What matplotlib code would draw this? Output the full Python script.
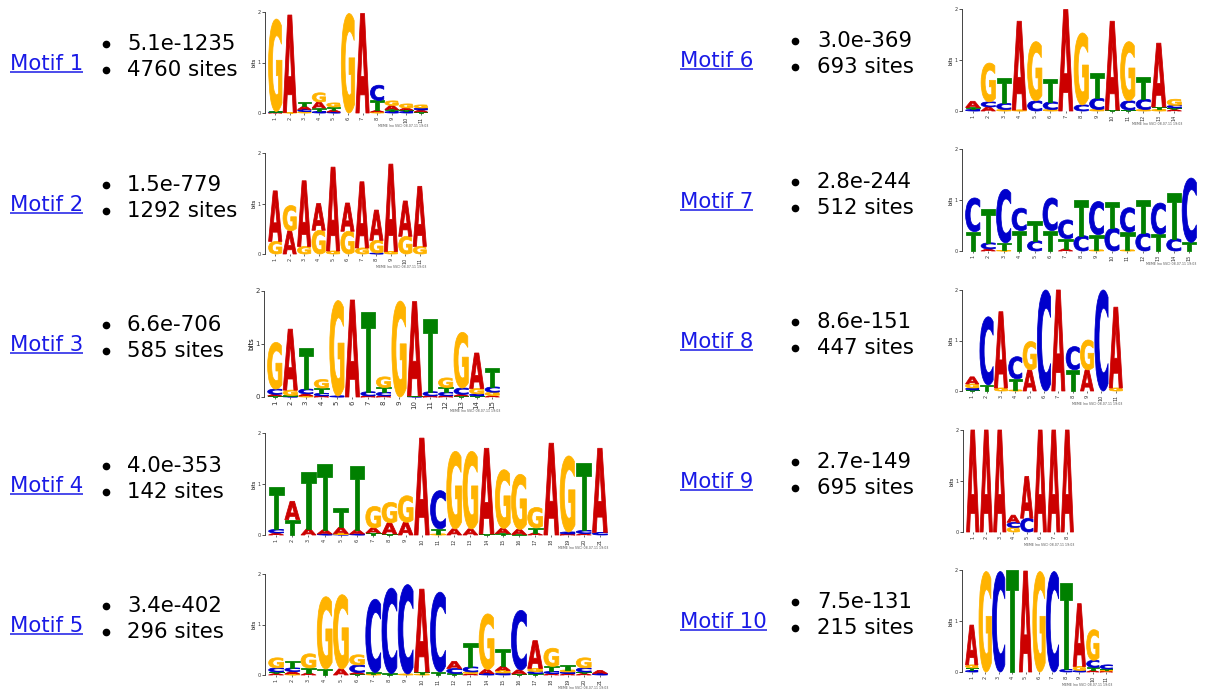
import matplotlib
matplotlib.use('Agg')
import matplotlib.pyplot as plt
from matplotlib.textpath import TextPath
from matplotlib.font_manager import FontProperties
from matplotlib.patches import PathPatch
from matplotlib.transforms import Affine2D

# summary of the discovered motifs
motif_names = ['Motif 1', 'Motif 2', 'Motif 3', 'Motif 4', 'Motif 5',
               'Motif 6', 'Motif 7', 'Motif 8', 'Motif 9', 'Motif 10']
evalues = ['5.1e-1235', '1.5e-779', '6.6e-706', '4.0e-353', '3.4e-402',
           '3.0e-369', '2.8e-244', '8.6e-151', '2.7e-149', '7.5e-131']
site_counts = [4760, 1292, 585, 142, 296, 693, 512, 447, 695, 215]

# information content (bits) per position, as (A, C, G, T)
motif1 = [(0.01, 0.01, 1.83, 0.01), (1.93, 0, 0.01, 0), (0.06, 0.04, 0.03, 0.08),
          (0.12, 0.03, 0.18, 0.07), (0.04, 0.02, 0.08, 0.06), (0, 0, 1.97, 0),
          (1.97, 0, 0, 0), (0.03, 0.3, 0.02, 0.2), (0.08, 0.03, 0.09, 0.04),
          (0.04, 0.03, 0.08, 0.03), (0.04, 0.04, 0.06, 0.02)]
motif2 = [(1.0, 0, 0.25, 0), (0.46, 0, 0.5, 0), (1.3, 0, 0.15, 0), (0.53, 0, 0.47, 0),
          (1.66, 0, 0.06, 0), (0.56, 0, 0.45, 0), (1.31, 0, 0.12, 0), (0.6, 0.02, 0.25, 0),
          (1.73, 0, 0.05, 0), (0.7, 0, 0.35, 0), (1.19, 0, 0.15, 0)]
motif3 = [(0.03, 0.1, 0.88, 0.02), (1.15, 0.01, 0.1, 0.02), (0.04, 0.09, 0.02, 0.77),
          (0.02, 0.05, 0.16, 0.1), (0, 0.02, 1.8, 0), (1.83, 0, 0, 0),
          (0.02, 0.08, 0, 1.5), (0.02, 0.07, 0.2, 0.09), (0, 0, 1.81, 0),
          (1.78, 0.01, 0, 0.01), (0.02, 0.08, 0, 1.37), (0.02, 0.07, 0.18, 0.09),
          (0.03, 0.12, 1.05, 0.02), (0.67, 0.04, 0.1, 0.02), (0.03, 0.1, 0.06, 0.36)]
motif4 = [(0.04, 0.07, 0, 0.83), (0.36, 0, 0, 0.3), (0.12, 0, 0, 1.11), (0.08, 0.02, 0, 1.3),
          (0.12, 0.01, 0.02, 0.37), (0.08, 0.02, 0, 1.25), (0.1, 0, 0.42, 0.04),
          (0.22, 0, 0.4, 0.02), (0.25, 0, 0.52, 0), (1.9, 0, 0, 0), (0, 0.75, 0.02, 0.1),
          (0.12, 0, 1.52, 0), (0.12, 0, 1.52, 0), (1.68, 0, 0, 0.02), (0.1, 0, 1.15, 0.03),
          (0.1, 0, 1.08, 0.01), (0.04, 0, 0.4, 0.1), (1.8, 0, 0, 0), (0.02, 0.04, 1.49, 0),
          (0.03, 0.06, 0, 1.32), (1.65, 0.05, 0, 0)]
motif5 = [(0.03, 0.08, 0.2, 0.03), (0.05, 0.07, 0.02, 0.14), (0.04, 0, 0.28, 0.1),
          (0, 0, 1.43, 0.12), (0.12, 0, 1.47, 0), (0.03, 0.15, 0.2, 0.02),
          (0, 1.45, 0.02, 0.03), (0, 1.69, 0, 0.03), (0, 1.77, 0.02, 0),
          (1.64, 0, 0.02, 0.04), (0, 1.58, 0, 0.06), (0.14, 0.1, 0, 0.03),
          (0.03, 0.1, 0.03, 0.48), (0.08, 0.03, 1.1, 0), (0.08, 0.04, 0.05, 0.35),
          (0.08, 1.18, 0, 0.02), (0.55, 0.04, 0.06, 0.03), (0.03, 0.04, 0.36, 0.1),
          (0.03, 0.03, 0.04, 0.1), (0.03, 0.08, 0.2, 0.03), (0.06, 0.03, 0, 0)]
motif6 = [(0.12, 0.03, 0, 0.04), (0.08, 0.1, 0.76, 0), (0, 0.12, 0.03, 0.5),
          (1.74, 0, 0.02, 0), (0, 0.2, 1.16, 0), (0, 0.15, 0.03, 0.45), (1.99, 0, 0, 0),
          (0, 0.12, 1.41, 0), (0, 0.22, 0.03, 0.49), (1.74, 0, 0, 0.02),
          (0, 0.18, 1.16, 0.02), (0, 0.2, 0.03, 0.43), (1.25, 0, 0.03, 0.05),
          (0.03, 0.05, 0.12, 0.03)]
motif7 = [(0, 0.66, 0, 0.38), (0.04, 0.12, 0, 0.67), (0, 1.05, 0.01, 0.15), (0, 0.44, 0, 0.4),
          (0, 0.2, 0, 0.38), (0, 0.64, 0, 0.4), (0.04, 0.37, 0, 0.2), (0, 0.3, 0, 0.7),
          (0, 0.65, 0.02, 0.3), (0, 0.45, 0, 0.52), (0, 0.48, 0.02, 0.35), (0, 0.35, 0, 0.65),
          (0, 0.61, 0, 0.33), (0, 0.24, 0, 0.89), (0, 1.26, 0, 0.17)]
motif8 = [(0.14, 0.04, 0.08, 0.02), (0, 1.35, 0, 0.12), (1.51, 0, 0.06, 0), (0, 0.44, 0.02, 0.22),
          (0.42, 0, 0.56, 0), (0, 2.0, 0, 0), (2.0, 0, 0, 0), (0, 0.46, 0, 0.42),
          (0.42, 0, 0.59, 0), (0, 2.0, 0, 0), (1.6, 0, 0.06, 0)]
motif9 = [(2.0, 0, 0, 0), (2.0, 0, 0, 0), (2.0, 0, 0, 0), (0.14, 0.1, 0.09, 0),
          (0.82, 0.27, 0, 0), (2.0, 0, 0, 0), (2.0, 0, 0, 0), (2.0, 0, 0, 0)]
motif10 = [(0.78, 0.03, 0.06, 0.05), (0, 0, 1.97, 0), (0, 1.97, 0, 0), (0, 0, 0, 2.0),
           (1.98, 0, 0, 0), (0, 0, 1.97, 0), (0, 1.97, 0, 0), (0, 0.05, 0, 1.7),
           (1.23, 0.03, 0.08, 0), (0.03, 0.14, 0.6, 0.06), (0.02, 0.08, 0.02, 0.02)]
motifs = [motif1, motif2, motif3, motif4, motif5, motif6, motif7, motif8, motif9, motif10]

BASE_COLORS = {'A': '#cc0000', 'C': '#0000cc', 'G': '#ffb300', 'T': '#008000'}
LINK_COLOR = '#1a1ae6'

W, H = 1208, 692
fig = plt.figure(figsize=(W / 100, H / 100), dpi=100)
fig.patch.set_facecolor('white')

# page-sized axes in pixel units for the text column
page = fig.add_axes([0, 0, 1, 1])
page.set_xlim(0, W)
page.set_ylim(H, 0)
page.axis('off')

# layout: (link x, bullet x, text x, row centre y)
rows = [(10, 106, 127, 62), (10, 106, 127, 203), (10, 106, 127, 343),
        (10, 106, 127, 484), (10, 106, 127, 624),
        (680, 795, 817, 59), (680, 795, 817, 200), (680, 795, 817, 340),
        (680, 795, 817, 480), (680, 795, 817, 620)]
# logo boxes: (axis x, y of 0 bits, y of 2 bits, right edge)
logo_boxes = [(265, 113, 12, 428), (265, 254, 153, 427), (264, 397, 291, 500),
              (265, 535, 433, 608), (265, 675, 574, 608), (962, 111, 9, 1182),
              (962, 251, 149, 1197), (962, 391, 290, 1123), (963, 532, 430, 1074),
              (962, 672, 570, 1113)]

FS = 15.3
fig.canvas.draw()
renderer = fig.canvas.get_renderer()
for i, (lx, bx, tx, yc) in enumerate(rows):
    base = yc + 7.8
    link = page.text(lx, base, motif_names[i], fontsize=FS, color=LINK_COLOR,
                     ha='left', va='baseline', family='DejaVu Sans')
    bb = link.get_window_extent(renderer)
    page.plot([lx, lx + bb.width], [base + 2.2, base + 2.2], color=LINK_COLOR, lw=1.1,
              solid_capstyle='butt')
    for k, txt in enumerate([evalues[i], '%d sites' % site_counts[i]]):
        b = base - 20 + 26 * k
        page.plot([bx], [b - 5.5], 'o', color='black', ms=4.5)
        page.text(tx, b, txt, fontsize=FS, color='black', ha='left', va='baseline',
                  family='DejaVu Sans')

letter_font = FontProperties(family='DejaVu Sans', weight='bold')
glyphs = {}
for ch in 'ACGT':
    p = TextPath((0, 0), ch, size=1, prop=letter_font)
    glyphs[ch] = (p, p.get_extents())


def draw_letter(ax, ch, x, y, w, h):
    path, ext = glyphs[ch]
    tr = (Affine2D().translate(-ext.x0, -ext.y0)
          .scale(w / ext.width, h / ext.height)
          .translate(x - w / 2, y))
    # a thin outline in the fill colour gives the letters a heavier weight
    ax.add_patch(PathPatch(tr.transform_path(path), fc=BASE_COLORS[ch],
                           ec=BASE_COLORS[ch], lw=0.55, joinstyle='round',
                           clip_on=False))


for i, (cols, (ax_x, y0, y2, xr)) in enumerate(zip(motifs, logo_boxes)):
    n = len(cols)
    cw = (xr - ax_x - 3) / n
    ax = fig.add_axes([ax_x / W, 1 - y0 / H, (xr - ax_x) / W, (y0 - y2) / H])
    ax.set_xlim(0.5 - 3 / cw, n + 0.5)
    ax.set_ylim(0, 2)
    ax.patch.set_alpha(0)
    for j, col in enumerate(cols, start=1):
        y = 0
        for ch, h in sorted(zip('ACGT', col), key=lambda p: p[1]):
            if h <= 0:
                continue
            draw_letter(ax, ch, j, y, 0.92, h)
            y += h
    fs = 5 if i == 2 else 3.6
    for s in ['top', 'right', 'bottom']:
        ax.spines[s].set_visible(False)
    ax.spines['left'].set_color('#444444')
    ax.spines['left'].set_linewidth(0.7)
    ax.set_yticks([0, 1, 2])
    ax.set_yticklabels(['0', '1', '2'], fontsize=fs)
    ax.set_xticks(range(1, n + 1))
    ax.set_xticklabels([str(k) for k in range(1, n + 1)], rotation=90, fontsize=fs)
    ax.tick_params(axis='y', length=2, width=0.6, pad=1, colors='#333333')
    ax.tick_params(axis='x', length=1.5, width=0.5, pad=1, colors='#333333')
    ax.set_ylabel('bits', fontsize=fs, labelpad=1)
    ax.text(1.0, -0.11, 'MEME (no SSC) 08.07.11 19:03', transform=ax.transAxes,
            ha='right', va='top', fontsize=2.3, color='#555555')

fig.savefig('out.png', dpi=100, facecolor='white')
